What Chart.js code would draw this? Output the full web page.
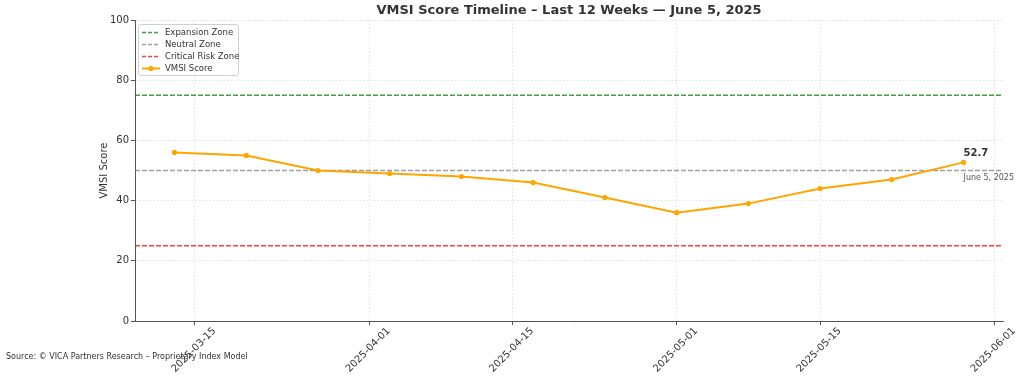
<!DOCTYPE html>
<html><head><meta charset="utf-8">
<script src="https://cdn.jsdelivr.net/npm/chart.js@4.4.1/dist/chart.umd.min.js"></script>
<style>html,body{margin:0;padding:0;background:#fff}canvas{display:block}</style>
</head><body>
<canvas id="c" width="1024" height="377"></canvas>
<script>
const weekDates = ['2025-03-13','2025-03-20','2025-03-27','2025-04-03','2025-04-10','2025-04-17','2025-04-24','2025-05-01','2025-05-08','2025-05-15','2025-05-22','2025-05-29'];
const vmsiScores = [56, 55, 50, 49, 48, 46, 41, 36, 39, 44, 47, 52.7];
const zoneNames = ['Expansion Zone', 'Neutral Zone', 'Critical Risk Zone'];
const zoneLevels = [75, 50, 25];
const zoneColors = ['rgba(0,128,0,0.75)', 'rgba(128,128,128,0.75)', 'rgba(255,0,0,0.75)'];
const xTickDates = ['2025-03-15','2025-04-01','2025-04-15','2025-05-01','2025-05-15','2025-06-01'];
const yTicks = [0, 20, 40, 60, 80, 100];
const titleText = 'VMSI Score Timeline \u2013 Last 12 Weeks \u2014 June 5, 2025';
const yAxisTitle = 'VMSI Score';
const sourceText = 'Source: \u00a9 VICA Partners Research \u2013 Proprietary Index Model';
const lastLabel = '52.7';
const lastDateLabel = 'June 5, 2025';

const day = s => Date.parse(s + 'T00:00:00Z') / 864e5;
const xs = weekDates.map(day);
const span = xs[xs.length - 1] - xs[0];
const xMin = xs[0] - 0.05 * span;
const xMax = xs[xs.length - 1] + 0.05 * span;
const FONT = '"DejaVu Sans", sans-serif';
const TXT = '#333';

const datasets = [{
  label: 'VMSI Score',
  data: xs.map((x, i) => ({x, y: vmsiScores[i]})),
  borderColor: '#ffa500', backgroundColor: '#ffa500',
  borderWidth: 2, pointRadius: 2.6, pointBackgroundColor: '#ffa500', pointBorderWidth: 0,
  tension: 0
}];
zoneLevels.forEach((lv, i) => datasets.push({
  label: zoneNames[i],
  data: [{x: xMin, y: lv}, {x: xMax, y: lv}],
  borderColor: zoneColors[i], borderWidth: 1.5, borderDash: [5, 2], pointRadius: 0
}));

const overlay = {
  id: 'overlay',
  afterDraw(chart) {
    const ctx = chart.ctx, a = chart.chartArea;
    const sx = chart.scales.x, sy = chart.scales.y;
    ctx.save();
    ctx.fillStyle = TXT;
    // title
    ctx.font = 'bold 13px ' + FONT;
    ctx.textAlign = 'center'; ctx.textBaseline = 'middle';
    ctx.fillText(titleText, (a.left + a.right) / 2, 11);
    // y title
    ctx.save();
    ctx.translate(104, (a.top + a.bottom) / 2);
    ctx.rotate(-Math.PI / 2);
    ctx.font = '10px ' + FONT;
    ctx.fillText(yAxisTitle, 0, 0);
    ctx.restore();
    // x tick labels
    ctx.font = '10px ' + FONT;
    xTickDates.forEach(d => {
      const px = sx.getPixelForValue(day(d));
      ctx.save();
      ctx.translate(px - 1, a.bottom + 29);
      ctx.rotate(-Math.PI / 4);
      ctx.textAlign = 'center'; ctx.textBaseline = 'middle';
      ctx.fillText(d, 0, 0);
      ctx.restore();
    });
    // source
    ctx.font = '8px ' + FONT;
    ctx.textAlign = 'left';
    ctx.fillText(sourceText, 6, 357);
    // annotations
    const lx = sx.getPixelForValue(xs[xs.length - 1]);
    const ly = sy.getPixelForValue(vmsiScores[vmsiScores.length - 1]);
    ctx.font = 'bold 10px ' + FONT;
    ctx.fillText(lastLabel, lx, ly - 9);
    ctx.font = '8px ' + FONT;
    ctx.fillStyle = '#555';
    ctx.fillText(lastDateLabel, lx, ly + 16);
    // legend
    const bx = a.left + 3, by = a.top + 4, bw = 100, bh = 51;
    ctx.fillStyle = 'rgba(255,255,255,0.85)';
    ctx.strokeStyle = '#d0d0d0'; ctx.lineWidth = 1;
    ctx.beginPath();
    if (ctx.roundRect) ctx.roundRect(bx + 0.5, by + 0.5, bw, bh, 2); else ctx.rect(bx + 0.5, by + 0.5, bw, bh);
    ctx.fill(); ctx.stroke();
    const items = zoneNames.map((n, i) => ({n, c: zoneColors[i], dash: true})).concat([{n: 'VMSI Score', c: '#ffa500', dash: false}]);
    ctx.font = '8.5px ' + FONT;
    items.forEach((it, i) => {
      const y = Math.round(by + 7.5 + i * 12.2) + 0.5;
      ctx.save();
      ctx.strokeStyle = it.c;
      ctx.lineWidth = it.dash ? 1.5 : 2;
      ctx.setLineDash(it.dash ? [4, 2] : []);
      ctx.beginPath(); ctx.moveTo(bx + 4, y); ctx.lineTo(bx + 22, y); ctx.stroke();
      if (!it.dash) { ctx.fillStyle = it.c; ctx.beginPath(); ctx.arc(bx + 13, y, 2.6, 0, Math.PI * 2); ctx.fill(); }
      ctx.restore();
      ctx.fillStyle = TXT; ctx.textAlign = 'left'; ctx.textBaseline = 'middle';
      ctx.fillText(it.n, bx + 27, y);
    });
    ctx.restore();
  }
};

new Chart(document.getElementById('c'), {
  type: 'line',
  data: {datasets},
  options: {
    responsive: false, animation: false, devicePixelRatio: 1,
    layout: {padding: {left: 0, top: 20, right: 21, bottom: 0}},
    plugins: {legend: {display: false}, title: {display: false}, tooltip: {enabled: false}},
    scales: {
      x: {
        type: 'linear', min: xMin, max: xMax,
        afterBuildTicks: s => { s.ticks = xTickDates.map(d => ({value: day(d)})); },
        afterFit: s => { s.height = 56; },
        ticks: {display: false},
        grid: {color: 'rgba(0,0,0,0.14)', lineWidth: 0.8, tickLength: 4, tickColor: '#555', tickWidth: 1, tickBorderDash: []},
        border: {display: true, color: '#555', width: 1, dash: [1.5, 2]}
      },
      y: {
        min: 0, max: 100,
        afterBuildTicks: s => { s.ticks = yTicks.map(v => ({value: v})); },
        afterFit: s => { s.width = 135; },
        ticks: {font: {family: FONT, size: 10}, color: TXT, padding: 2},
        grid: {color: 'rgba(0,0,0,0.14)', lineWidth: 0.8, tickLength: 4, tickColor: '#555', tickWidth: 1, tickBorderDash: []},
        border: {display: true, color: '#555', width: 1, dash: [1.5, 2]}
      }
    }
  },
  plugins: [overlay]
});
</script>
</body></html>
